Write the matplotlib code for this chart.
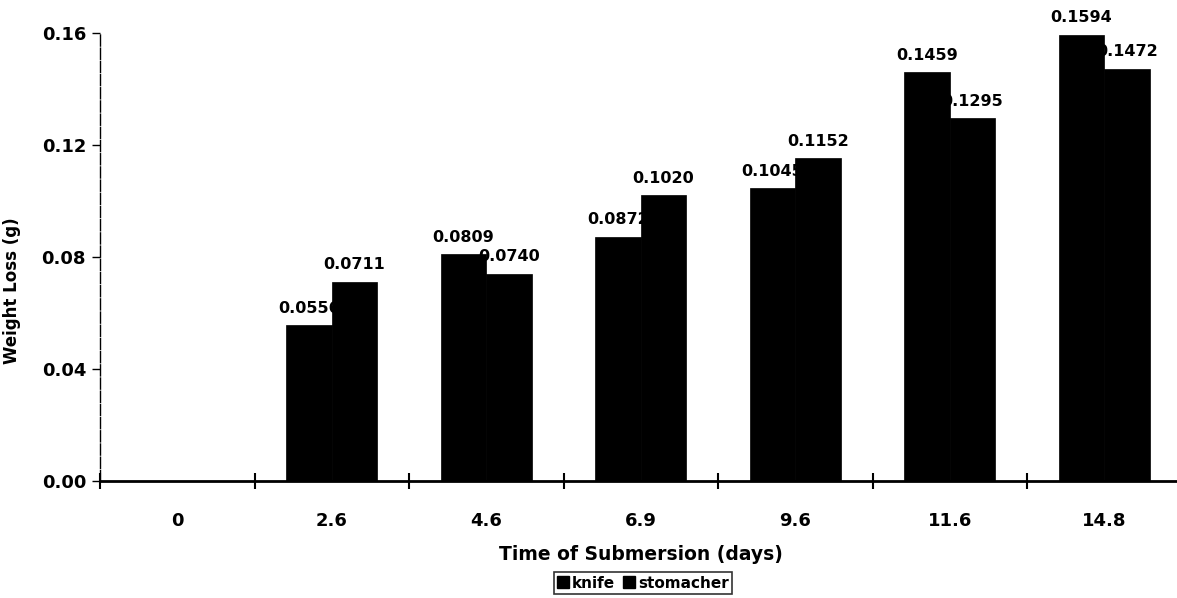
import matplotlib
matplotlib.use("Agg")
import matplotlib.pyplot as plt
import numpy as np
from matplotlib.patches import Patch

# data
times = ["0", "2.6", "4.6", "6.9", "9.6", "11.6", "14.8"]
knife = [0.0, 0.0556, 0.0809, 0.0872, 0.1045, 0.1459, 0.1594]
stomacher = [0.0, 0.0711, 0.0740, 0.1020, 0.1152, 0.1295, 0.1472]
yticks = [0.00, 0.04, 0.08, 0.12, 0.16]

FONT = "DejaVu Sans"
W, H = 1177, 598

fig = plt.figure(figsize=(W / 100, H / 100), dpi=100, facecolor="white")
ax = fig.add_axes([100 / W, 117 / H, 1081.5 / W, 448 / H])

x = np.arange(len(times))
bw = 0.295

# labels sit under the bars so neighbouring bars clip them, like the original
for xi, v in zip(x, knife):
    if v > 0:
        ax.text(xi - bw / 2, v + 0.0035, f"{v:.4f}", ha="center", va="bottom",
                fontsize=11.5, fontweight="bold", family=FONT, zorder=1)
for xi, v in zip(x, stomacher):
    if v > 0:
        ax.text(xi + bw / 2, v + 0.0035, f"{v:.4f}", ha="center", va="bottom",
                fontsize=11.5, fontweight="bold", family=FONT, zorder=1)

ax.bar(x - bw / 2, knife, bw, color="black", edgecolor="black", lw=0.5, zorder=2)
ax.bar(x + bw / 2, stomacher, bw, color="black", edgecolor="black", lw=0.5, zorder=2)

ax.set_xlim(-0.5, len(times) - 0.5)
ax.set_ylim(0, 0.16)

ax.set_xticks(x)
ax.set_xticklabels(times, fontsize=13, fontweight="bold", family=FONT)
ax.set_xticks(np.arange(len(times) + 1) - 0.5, minor=True)
ax.tick_params(axis="x", which="major", length=0, pad=22)
ax.tick_params(axis="x", which="minor", direction="inout", length=12, width=1.5)

ax.set_yticks(yticks)
ax.set_yticklabels([f"{t:.2f}" for t in yticks], fontsize=13, fontweight="bold", family=FONT)
ax.tick_params(axis="y", direction="out", length=6, width=1, pad=4)

for s in ("top", "right"):
    ax.spines[s].set_visible(False)
ax.spines["bottom"].set_linewidth(2)
ax.spines["left"].set_linewidth(1)
ax.spines["left"].set_linestyle((0, (8, 1.5)))

ax.set_xlabel("Time of Submersion (days)", fontsize=13.5, fontweight="bold", family=FONT)
ax.xaxis.set_label_coords(0.5, -0.142)
ax.set_ylabel("Weight Loss (g)", fontsize=12, fontweight="bold", family=FONT)
ax.yaxis.set_label_coords(-0.073, 0.425)

handles = [Patch(facecolor="black", edgecolor="black"), Patch(facecolor="black", edgecolor="black")]
leg = fig.legend(handles, ["knife", "stomacher"], loc="center", bbox_to_anchor=(643 / W, 1 - 583 / H),
                 ncol=2, frameon=True, fancybox=False, handlelength=0.8, handleheight=0.8,
                 handletextpad=0.2, columnspacing=0.5, borderpad=0.2, borderaxespad=0,
                 prop={"family": FONT, "weight": "bold", "size": 11})
leg.get_frame().set_edgecolor("black")
leg.get_frame().set_linewidth(1.2)

fig.savefig("out.png", dpi=100, facecolor="white")
